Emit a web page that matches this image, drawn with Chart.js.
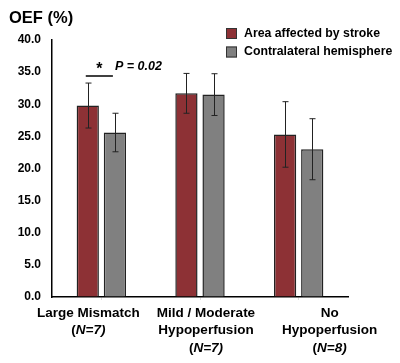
<!DOCTYPE html>
<html>
<head>
<meta charset="utf-8">
<script src="https://cdn.jsdelivr.net/npm/chart.js@4"></script>
<style>
  body { margin: 0; background: #fff; }
  #wrap { width: 400px; height: 363px; }
</style>
</head>
<body>
<div id="wrap"><canvas id="oefChart" width="400" height="363"></canvas></div>
<script>
const groups = ["Large Mismatch", "Mild / Moderate Hypoperfusion", "No Hypoperfusion"];
const groupN = [7, 7, 8];
const seriesNames = ["Area affected by stroke", "Contralateral hemisphere"];
const affected = [29.8, 31.7, 25.3];
const affectedSd = [3.5, 3.1, 5.1];
const contralateral = [25.6, 31.5, 23.0];
const contralateralSd = [3.0, 3.25, 4.75];
const yTicks = [0, 5, 10, 15, 20, 25, 30, 35, 40];

const FONT = "Arial, 'Liberation Sans', sans-serif";
const colors = ["#8d3135", "#808080"];

// lignes des libellés sous l'axe (N en italique)
const labelLines = [
    [["Large Mismatch"], ["(", "N", "=" + groupN[0] + ")"]],
    [["Mild / Moderate"], ["Hypoperfusion"], ["(", "N", "=" + groupN[1] + ")"]],
    [["No"], ["Hypoperfusion"], ["(", "N", "=" + groupN[2] + ")"]]
];
const labelShift = [-13, 6, 31];

const errorBars = {
    id: "errorBars",
    afterDatasetsDraw(chart) {
        const ctx = chart.ctx;
        const y = chart.scales.y;
        const sds = [affectedSd, contralateralSd];
        ctx.save();
        ctx.strokeStyle = "#222";
        ctx.lineWidth = 1;
        chart.data.datasets.forEach((ds, i) => {
            chart.getDatasetMeta(i).data.forEach((bar, j) => {
                const top = y.getPixelForValue(ds.data[j] + sds[i][j]);
                const bot = y.getPixelForValue(ds.data[j] - sds[i][j]);
                const x = Math.round(bar.x) + 0.5;
                ctx.beginPath();
                ctx.moveTo(x, top); ctx.lineTo(x, bot);
                ctx.moveTo(x - 3, top); ctx.lineTo(x + 3, top);
                ctx.moveTo(x - 3, bot); ctx.lineTo(x + 3, bot);
                ctx.stroke();
            });
        });
        ctx.restore();
    }
};

const extras = {
    id: "extras",
    afterDraw(chart) {
        const ctx = chart.ctx;
        const x = chart.scales.x;
        ctx.save();
        ctx.fillStyle = "#000";
        ctx.textBaseline = "middle";

        // titre de l'axe
        ctx.font = "bold 16.5px " + FONT;
        ctx.textAlign = "left";
        ctx.fillText("OEF (%)", 9, 18);

        // légende
        ctx.font = "bold 12.3px " + FONT;
        seriesNames.forEach((name, i) => {
            const ly = 33.5 + i * 18.5;
            ctx.fillStyle = colors[i];
            ctx.fillRect(226, ly - 5.5, 11, 11);
            ctx.strokeStyle = "#333";
            ctx.lineWidth = 1;
            ctx.strokeRect(226.5, ly - 5, 10, 10);
            ctx.fillStyle = "#000";
            ctx.fillText(name, 244, ly);
        });

        // significativité
        const b0 = chart.getDatasetMeta(0).data[0];
        const b1 = chart.getDatasetMeta(1).data[0];
        ctx.strokeStyle = "#000";
        ctx.lineWidth = 1.5;
        ctx.beginPath();
        ctx.moveTo(b0.x - 2, 76); ctx.lineTo(b1.x - 2, 76);
        ctx.stroke();
        ctx.font = "bold 16px " + FONT;
        ctx.textAlign = "center";
        ctx.fillText("*", (b0.x + b1.x) / 2 - 2, 70);
        ctx.font = "italic bold 12.5px " + FONT;
        ctx.textAlign = "left";
        ctx.fillText("P = 0.02", 115, 67);

        // libellés des catégories
        labelLines.forEach((lines, i) => {
            const cx = x.getPixelForValue(i) + labelShift[i];
            lines.forEach((parts, k) => {
                const ly = 313 + k * 17.5;
                const fonts = parts.map((p, m) => (parts.length > 1 && m > 0 ? "italic bold 13.5px " : "bold 13.5px ") + FONT);
                let total = 0;
                parts.forEach((p, m) => { ctx.font = fonts[m]; total += ctx.measureText(p).width; });
                let px = cx - total / 2;
                ctx.textAlign = "left";
                parts.forEach((p, m) => {
                    ctx.font = fonts[m];
                    ctx.fillText(p, px, ly);
                    px += ctx.measureText(p).width;
                });
            });
        });
        ctx.restore();
    }
};

new Chart(document.getElementById("oefChart"), {
    type: "bar",
    data: {
        labels: groups,
        datasets: [
            { label: seriesNames[0], data: affected, backgroundColor: colors[0], borderColor: "#222", borderWidth: 1.5 },
            { label: seriesNames[1], data: contralateral, backgroundColor: colors[1], borderColor: "#222", borderWidth: 1.5 }
        ]
    },
    options: {
        responsive: false,
        animation: false,
        layout: { padding: { top: 40, right: 52, left: 0, bottom: 0 } },
        plugins: { legend: { display: false }, tooltip: { enabled: false } },
        datasets: { bar: { categoryPercentage: 0.55, barPercentage: 0.82 } },
        scales: {
            x: {
                grid: { offset: false, drawOnChartArea: false, drawTicks: true, tickLength: 3, color: "#ddd" },
                border: { color: "#000", width: 1.5 },
                ticks: { display: false },
                afterFit(scale) { scale.height = 66; }
            },
            y: {
                min: 0,
                max: 40,
                afterBuildTicks(scale) { scale.ticks = yTicks.map(v => ({ value: v })); },
                grid: { drawOnChartArea: false, drawTicks: false },
                border: { color: "#000", width: 1.5 },
                ticks: {
                    color: "#000",
                    padding: 11,
                    font: { family: FONT, weight: "bold", size: 12 },
                    callback: v => v.toFixed(1)
                },
                afterFit(scale) { scale.width = 52; }
            }
        }
    },
    plugins: [errorBars, extras]
});
</script>
</body>
</html>
